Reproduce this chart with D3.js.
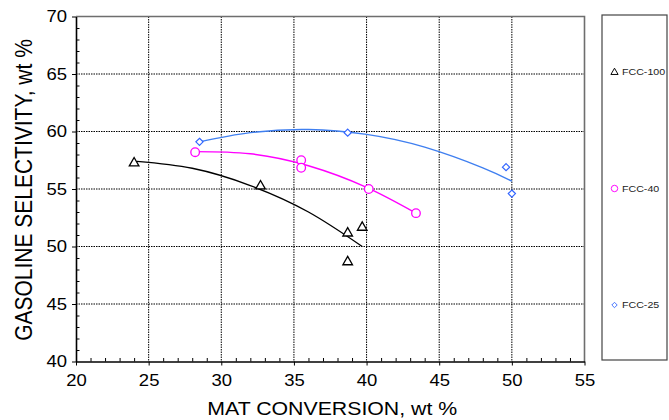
<!DOCTYPE html>
<html>
<head>
<meta charset="utf-8">
<script src="https://cdn.jsdelivr.net/npm/d3@7"></script>
<style>
  html, body { margin: 0; padding: 0; background: #fff; }
  svg { display: block; font-family: "Liberation Sans", Arial, sans-serif; }
</style>
</head>
<body>
<svg id="chart" width="669" height="420"></svg>
<script>
// MAT conversion (x) and gasoline selectivity (y), wt %
const fcc100X = [24.0, 32.7, 38.7, 39.7, 38.7];
const fcc100Y = [57.3, 55.3, 51.2, 51.7, 48.7];
const fcc40X = [28.2, 35.5, 35.5, 40.15, 43.4];
const fcc40Y = [58.2, 57.5, 56.85, 55.0, 52.9];
const fcc25X = [28.5, 38.7, 49.6, 50.0];
const fcc25Y = [59.1, 59.9, 56.9, 54.6];

// fitted trend curves
const fcc100TrendX = [24.2, 28, 32, 36, 39.7];
const fcc100TrendY = [57.4, 56.8, 55.3, 53.0, 50.0];
const fcc40TrendX = [28.2, 32, 36, 40, 43.4];
const fcc40TrendY = [58.25, 58.06, 57.02, 55.14, 52.9];
const fcc25TrendX = [28.5, 32, 36, 40, 44, 48, 50];
const fcc25TrendY = [59.1, 59.9, 60.17, 59.75, 58.64, 56.84, 55.68];

const xTicks = [20, 25, 30, 35, 40, 45, 50, 55];
const yTicks = [40, 45, 50, 55, 60, 65, 70];
const seriesNames = ["FCC-100", "FCC-40", "FCC-25"];

const STRETCH = 1.12;
const svg = d3.select("#chart");
const plotL = 76, plotR = 584.5, plotT = 16.5, plotB = 361.5;

const x = d3.scaleLinear().domain([20, 55]).range([plotL, plotR]);
const y = d3.scaleLinear().domain([40, 70]).range([plotB, plotT]);

// dotted grid
const grid = svg.append("g").attr("stroke", "#000").attr("stroke-width", 1)
  .attr("stroke-dasharray", "1.5,1");
grid.selectAll("line.v").data(xTicks.slice(1, -1)).join("line")
  .attr("x1", d => x(d)).attr("x2", d => x(d)).attr("y1", plotT).attr("y2", plotB);
grid.selectAll("line.h").data(yTicks.slice(1, -1)).join("line")
  .attr("y1", d => y(d)).attr("y2", d => y(d)).attr("x1", plotL).attr("x2", plotR);

// top and right frame
svg.append("path")
  .attr("d", `M${plotL},${plotT}H${plotR}V${plotB}`)
  .attr("fill", "none").attr("stroke", "#6e6e6e").attr("stroke-width", 1.6);

// minor ticks (inside)
svg.append("g").attr("transform", `translate(0,${plotB})`)
  .call(d3.axisBottom(x).tickValues(d3.range(21, 55, 1).filter(v => v % 5)).tickSize(-3.5).tickFormat(""))
  .call(g => g.select(".domain").remove())
  .selectAll("line").attr("stroke", "#000");
svg.append("g").attr("transform", `translate(${plotL},0)`)
  .call(d3.axisLeft(y).tickValues(d3.range(41, 70, 1).filter(v => v % 5)).tickSize(-3.5).tickFormat(""))
  .call(g => g.select(".domain").remove())
  .selectAll("line").attr("stroke", "#000");

// major axes
const xAxis = svg.append("g").attr("transform", `translate(0,${plotB})`)
  .call(d3.axisBottom(x).tickValues(xTicks).tickSize(4).tickPadding(9).tickSizeOuter(0));
const yAxis = svg.append("g").attr("transform", `translate(${plotL},0)`)
  .call(d3.axisLeft(y).tickValues(yTicks).tickSize(4).tickPadding(5).tickSizeOuter(0));
[xAxis, yAxis].forEach(a => {
  a.attr("font-family", null).attr("font-size", null);
  a.select(".domain").attr("stroke", "#000").attr("stroke-width", 1.6);
  a.selectAll(".tick line").attr("stroke", "#000");
  a.selectAll(".tick text").attr("fill", "#000").style("font-size", "16.5px");
});

// trend curves
const line = d3.line().x(d => x(d[0])).y(d => y(d[1])).curve(d3.curveNatural);
const zip = (a, b) => a.map((v, i) => [v, b[i]]);
const colors = { "FCC-100": "#000000", "FCC-40": "#ff00ff", "FCC-25": "#3f7ff0" };
const trends = [
  ["FCC-100", zip(fcc100TrendX, fcc100TrendY)],
  ["FCC-40", zip(fcc40TrendX, fcc40TrendY)],
  ["FCC-25", zip(fcc25TrendX, fcc25TrendY)]
];
svg.append("g").selectAll("path").data(trends).join("path")
  .attr("d", d => line(d[1]))
  .attr("fill", "none")
  .attr("stroke", d => colors[d[0]])
  .attr("stroke-width", 1.4);

// markers
const markerColors = { "FCC-100": "#000000", "FCC-40": "#ff00ff", "FCC-25": "#3366ff" };
const triangle = d3.symbol().type(d3.symbolTriangle).size(40);
function drawMarker(sel, name) {
  if (name === "FCC-100") {
    sel.append("path").attr("d", triangle()).attr("transform", "translate(0,0.5)")
      .attr("fill", "#fff").attr("stroke", markerColors[name]).attr("stroke-width", 1.3);
  } else if (name === "FCC-40") {
    sel.append("circle").attr("r", 4.3)
      .attr("fill", "#fff").attr("stroke", markerColors[name]).attr("stroke-width", 1.3);
  } else {
    sel.append("path").attr("d", "M0,-3.6L3.6,0L0,3.6L-3.6,0Z")
      .attr("fill", "#fff").attr("stroke", markerColors[name]).attr("stroke-width", 1.2);
  }
}
const points = [
  ["FCC-100", zip(fcc100X, fcc100Y)],
  ["FCC-40", zip(fcc40X, fcc40Y)],
  ["FCC-25", zip(fcc25X, fcc25Y)]
];
points.forEach(([name, pts]) => {
  svg.append("g").selectAll("g").data(pts).join("g")
    .attr("transform", d => `translate(${x(d[0])},${y(d[1])})`)
    .each(function () { drawMarker(d3.select(this), name); });
});

// axis titles
svg.append("text").attr("class", "stretch")
  .attr("x", (plotL + plotR) / 2 + 2).attr("y", 415)
  .attr("text-anchor", "middle").style("font-size", "19px")
  .text("MAT CONVERSION, wt %");
svg.append("text")
  .attr("transform", `translate(31.5,190) scale(${STRETCH},1) rotate(-90)`)
  .attr("text-anchor", "middle").style("font-size", "21px")
  .text("GASOLINE SELECTIVITY, wt %");

// legend
svg.append("rect").attr("x", 602).attr("y", 15).attr("width", 65).attr("height", 345)
  .attr("fill", "#fff").attr("stroke", "#444").attr("stroke-width", 1.2);
const legendY = d3.scalePoint().domain(seriesNames).range([72, 305]);
const items = svg.append("g").selectAll("g").data(seriesNames).join("g")
  .attr("transform", d => `translate(614.5,${legendY(d)})`);
items.each(function (d) {
  const g = d3.select(this).append("g").attr("transform", "scale(0.75)");
  drawMarker(g, d);
});
items.append("text").attr("class", "stretch")
  .attr("x", 7.5).attr("dy", "0.35em").style("font-size", "9.5px").attr("fill", "#222")
  .text(d => d);

// widen horizontal labels slightly
svg.selectAll(".tick text, text.stretch").each(function () {
  const w = this.getComputedTextLength();
  d3.select(this).attr("textLength", w * STRETCH).attr("lengthAdjust", "spacingAndGlyphs");
});
</script>
</body>
</html>
